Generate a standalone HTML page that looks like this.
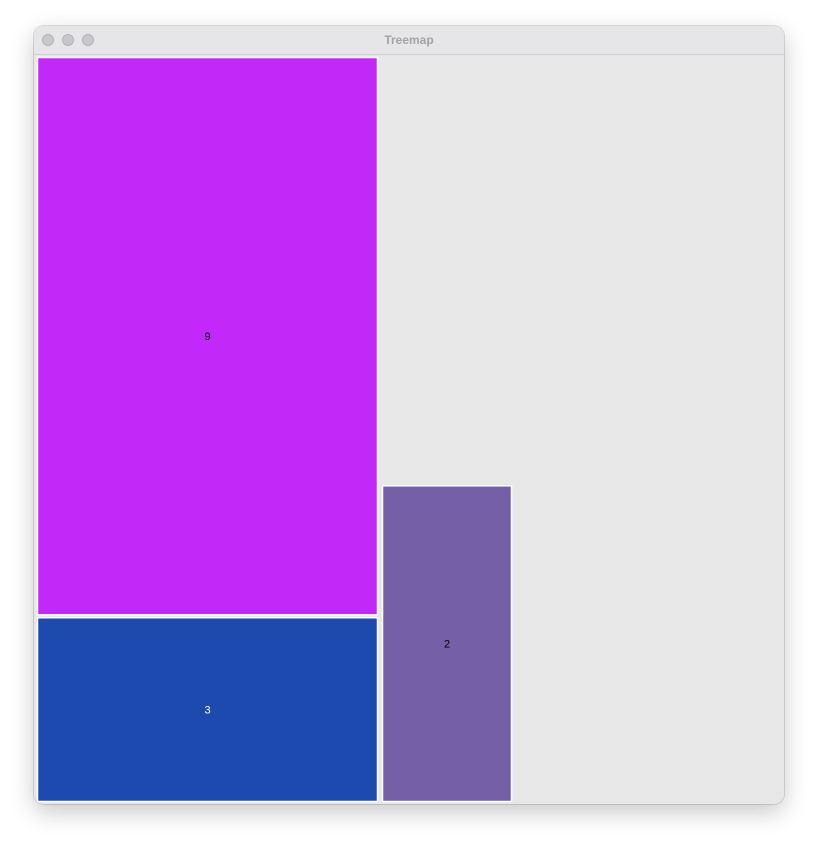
<!DOCTYPE html>
<html><head><meta charset="utf-8">
<style>
html,body{margin:0;padding:0;background:#fff;width:818px;height:846px;overflow:hidden;font-family:"Liberation Sans",sans-serif;}
#win{position:absolute;left:34px;top:26px;width:750px;height:778px;background:#e8e7e8;border-radius:10px;box-shadow:0 8px 24px rgba(0,0,0,0.22),0 0 0 1px rgba(0,0,0,0.12);overflow:hidden;}
#bar{position:absolute;left:0;top:0;width:750px;height:28px;background:#e6e5e8;border-bottom:1px solid #cfcfd1;}
.dot{position:absolute;top:8px;width:12px;height:12px;border-radius:50%;background:#c8c7cb;border:0.5px solid #b5b4b8;box-sizing:border-box;}
#title{position:absolute;left:0;right:0;top:7px;text-align:center;font-size:12px;font-weight:bold;color:#a3a3a6;}
svg{position:absolute;left:0;top:0;}
</style></head><body>
<div id="win">
 <div id="bar">
  <div class="dot" style="left:8px"></div>
  <div class="dot" style="left:28px"></div>
  <div class="dot" style="left:48px"></div>
  <div id="title">Treemap</div>
 </div>
</div>
<svg id="chart" width="818" height="846"></svg>
<script>
const labels = ["9","3","2"];
const values = [9,3,2];
const colors = ["#c228f7","#1d4aae","#7560a8"];
const textColors = ["#000","#fff","#000"];

const x0=36, y0=56, H=747;
const u = 343*H/12;
const col2W = 134;
const svg=document.getElementById('chart');
const NS="http://www.w3.org/2000/svg";
const col1Sum = values[0]+values[1];
const w1 = col1Sum*u/H;
const cells=[];
let y=y0;
for(let i=0;i<2;i++){const h=values[i]*u/w1;cells.push({x:x0,y:y,w:w1,h:h,i:i});y+=h;}
const h3 = values[2]*u/col2W;
cells.push({x:x0+w1+2,y:y0+H-h3,w:col2W-2,h:h3,i:2});
cells.forEach(c=>{
  const r=document.createElementNS(NS,'rect');
  r.setAttribute('x',c.x+1.5);r.setAttribute('y',c.y+1.5);
  r.setAttribute('width',c.w-3);r.setAttribute('height',c.h-3);
  r.setAttribute('fill',colors[c.i]);
  r.setAttribute('stroke','#fff');r.setAttribute('stroke-width','1.5');
  
  
  svg.appendChild(r);
  const t=document.createElementNS(NS,'text');
  t.setAttribute('x',c.x+c.w/2);t.setAttribute('y',c.y+c.h/2+4);
  t.setAttribute('text-anchor','middle');t.setAttribute('font-size','11');
  t.setAttribute('font-family','Liberation Sans, sans-serif');
  t.setAttribute('fill',textColors[c.i]);
  t.textContent=labels[c.i];
  
  
  svg.appendChild(t);
});
</script>
</body></html>
